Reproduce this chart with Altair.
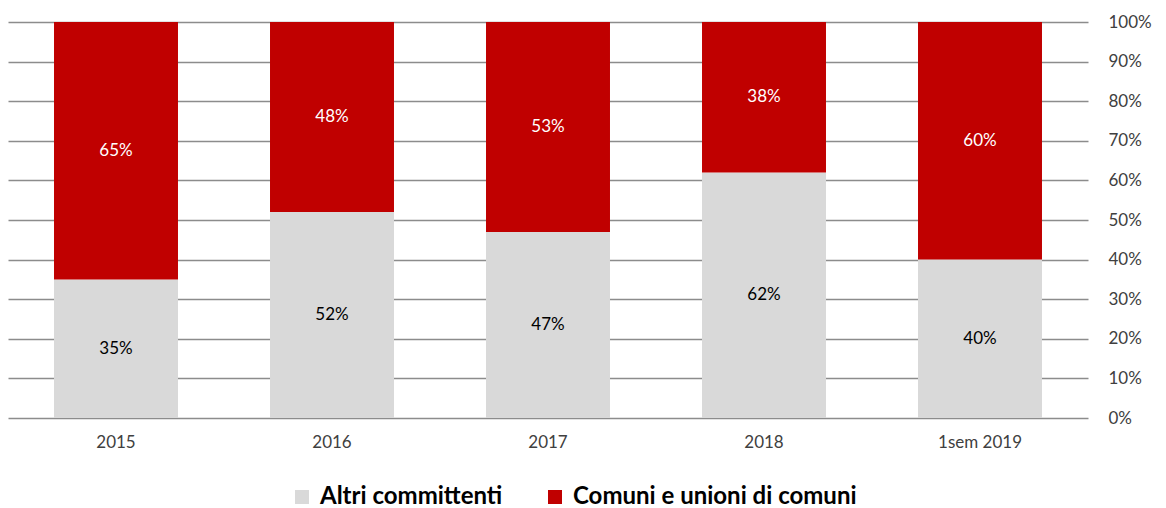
import altair as alt
import pandas as pd

categories = ["2015", "2016", "2017", "2018", "1sem 2019"]
series_names = ["Altri committenti", "Comuni e unioni di comuni"]
altri = [35, 52, 47, 62, 40]
comuni = [65, 48, 53, 38, 60]

rows = []
for i, c in enumerate(categories):
    rows.append({"anno": c, "serie": series_names[0], "val": altri[i] / 100, "ord": 0})
    rows.append({"anno": c, "serie": series_names[1], "val": comuni[i] / 100, "ord": 1})
df = pd.DataFrame(rows)

FONT = "Lato"
tick_values = [i / 10 for i in range(11)]

x_axis = alt.Axis(labelAngle=0, labelFontSize=17, labelColor="#404040",
                  labelFont=FONT, domain=False, ticks=False, labelPadding=16)
y_axis = alt.Axis(orient="right", format="%", values=tick_values,
                  labelFontSize=17, labelColor="#404040", labelFont=FONT,
                  labelOverlap=False, labelBound=False, labelFlush=False,
                  domain=False, ticks=False, labelPadding=20,
                  gridColor="#8c8c8c", gridWidth=1.3)
x_scale = alt.Scale(paddingInner=0.426, paddingOuter=0.213)
y_scale = alt.Scale(domain=[0, 1])

base = alt.Chart(df).transform_stack(
    stack="val", groupby=["anno"], as_=["y0", "y1"],
    sort=[alt.SortField("ord", order="ascending")]
).transform_calculate(mid="(datum.y0 + datum.y1) / 2")

bars = base.mark_bar().encode(
    x=alt.X("anno:N", sort=categories, title=None, scale=x_scale, axis=x_axis),
    y=alt.Y("y0:Q", title=None, scale=y_scale, axis=y_axis),
    y2="y1:Q",
    color=alt.Color("serie:N",
                    scale=alt.Scale(domain=series_names, range=["#D9D9D9", "#C00000"]),
                    legend=alt.Legend(title=None, orient="none", legendX=282, legendY=463,
                                      direction="horizontal",
                                      symbolType="square", symbolSize=196,
                                      symbolStrokeWidth=0, labelFontSize=24,
                                      labelFontWeight="bold", labelFont=FONT,
                                      labelLimit=0,
                                      labelColor="#000000", columnPadding=40,
                                      labelOffset=6)),
)

labels = base.mark_text(fontSize=17, font=FONT).encode(
    x=alt.X("anno:N", sort=categories, title=None, scale=x_scale, axis=x_axis),
    y=alt.Y("mid:Q", title=None, scale=y_scale, axis=y_axis),
    text=alt.Text("val:Q", format=".0%"),
    color=alt.Color("serie:N", scale=alt.Scale(domain=series_names, range=["#000000", "#FFFFFF"]),
                    legend=None),
)

chart = alt.layer(bars, labels).resolve_scale(color="independent").properties(
    width=1080, height=396,
    padding={"left": 0, "top": 5, "right": 5, "bottom": 0},
).configure_view(stroke=None)

chart.save("out.html", embed_options={"renderer": "svg", "actions": False})
